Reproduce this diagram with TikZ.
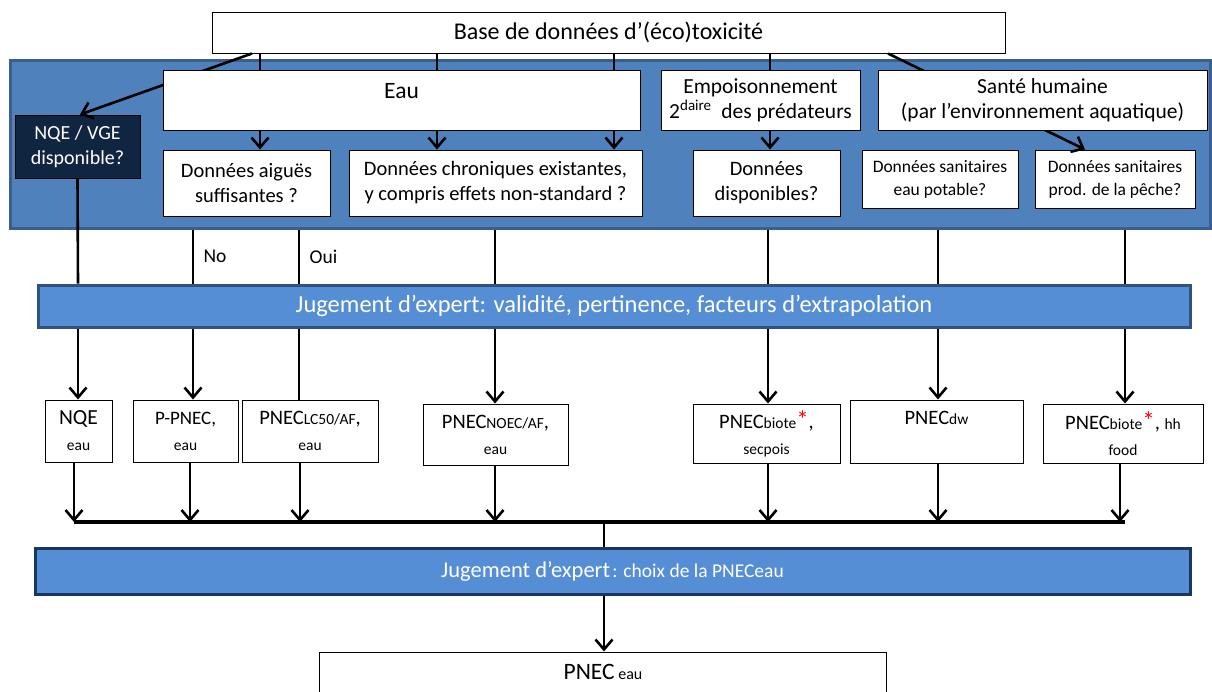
\documentclass[tikz,border=0pt]{standalone}
\usepackage{fontspec}
\setmainfont{Carlito}
\usetikzlibrary{arrows.meta}
\definecolor{panelblue}{HTML}{4F81BD}
\definecolor{panelborder}{HTML}{3A5F8E}
\definecolor{barblue}{HTML}{558ED5}
\definecolor{barborder}{HTML}{30527F}
\definecolor{bartwoborder}{HTML}{17375E}
\definecolor{navybox}{HTML}{10253F}
\newcommand{\fsz}[2]{\fontsize{#1}{#2}\selectfont}
\newcommand{\redstar}{{\fsz{25}{26}\textcolor{red}{*}}}
\begin{document}
\begin{tikzpicture}[x=1pt,y=-1pt,
  bx/.style={draw=black,line width=1pt,fill=white,inner sep=0pt,align=center},
  conn/.style={line width=2.6pt,draw=black},
  arr/.style={conn,-{Straight Barb[length=10pt,width=17pt,line width=2.6pt]}},
  bar/.style={draw=barborder,line width=3pt,fill=barblue,inner sep=0pt,text=white}]
\useasboundingbox (0,0) rectangle (1212,691);
\clip (0,0) rectangle (1212,691);
% top box
\node[bx,minimum width=793pt,minimum height=41pt,font=\fsz{24}{28}] (top) at (608.5,32.5) {Base de données d’(éco)toxicité};
% panel
\node[draw=panelborder,line width=3pt,fill=panelblue,minimum width=1200pt,minimum height=168pt,inner sep=0pt] (panel) at (610,144) {};
% column coordinates
\coordinate (cA) at (260,0);
\coordinate (cB) at (437,0);
\coordinate (cC) at (614,0);
\coordinate (cD) at (770,0);
\coordinate (cL) at (252,0);
\coordinate (cLe) at (80,0);
\coordinate (cR) at (888,0);
\coordinate (cRe) at (1085,0);
\coordinate (k1) at (78,0);
\coordinate (k2) at (193,0);
\coordinate (k3) at (299,0);
\coordinate (k4) at (495,0);
\coordinate (k5) at (768,0);
\coordinate (k6) at (938,0);
\coordinate (k7) at (1125,0);
% boxes in the panel (positions needed for diagonal connectors)
\node[draw=black,line width=1pt,fill=navybox,text=white,inner sep=0pt,align=center,minimum width=125pt,minimum height=63pt,font=\fsz{20}{25}] (nqe) at (77.5,146.5) {NQE / VGE\\disponible?};
\node[bx,minimum width=160pt,minimum height=58pt,font=\fsz{17.5}{23}] (pec) at (1115,179) {Données sanitaires\\prod. de la pêche?};
% diagonal connectors (behind Eau and Santé boxes)
\draw[arr] (top.south -| cL) -- (nqe.north -| cLe);
\draw[arr] (top.south -| cR) -- (pec.north -| cRe);
% other boxes
\node[bx,minimum width=477pt,minimum height=60pt] (eau) at (401.5,100) {};
\node[font=\fsz{23.5}{26}] (eaut) at (401.5,91) {Eau};
\node[bx,minimum width=199pt,minimum height=60pt,font=\fsz{21.5}{25}] (emp) at (760.5,100) {Empoisonnement\\2\textsuperscript{daire}\ \ des prédateurs};
\node[bx,minimum width=329pt,minimum height=60pt,font=\fsz{21.5}{25}] (san) at (1042.5,100) {Santé humaine\\(par l’environnement aquatique)};
\node[bx,minimum width=167pt,minimum height=66pt,font=\fsz{20.5}{25}] (aig) at (246.5,183) {Données aiguës\\suffisantes ?};
\node[bx,minimum width=293pt,minimum height=66pt,font=\fsz{20.5}{25}] (chr) at (495.5,183) {Données chroniques existantes,\\y compris effets non-standard ?};
\node[bx,minimum width=147pt,minimum height=66pt,font=\fsz{20.5}{25}] (dis) at (766.5,183) {Données\\disponibles?};
\node[bx,minimum width=156pt,minimum height=58pt,font=\fsz{17.5}{23}] (pot) at (940,179) {Données sanitaires\\eau potable?};
% connectors top -> level 1 boxes
\draw[conn] (top.south -| cA) -- (eau.north -| cA);
\draw[conn] (top.south -| cB) -- (eau.north -| cB);
\draw[conn] (top.south -| cC) -- (eau.north -| cC);
\draw[conn] (top.south -| cD) -- (emp.north -| cD);
\draw[arr] (eau.south -| cA) -- (aig.north -| cA);
\draw[arr] (eau.south -| cB) -- (chr.north -| cB);
\draw[arr] (eau.south -| cC) -- (chr.north -| cC);
\draw[arr] (emp.south -| cD) -- (dis.north -| cD);
% bar 1
\node[bar,minimum width=1152pt,minimum height=42pt,font=\fsz{24.5}{28}] (bar1) at (614,306) {Jugement d’expert: validité, pertinence, facteurs d’extrapolation};
% panel -> bar1
\draw[conn] (nqe.south) -- (bar1.north -| k1);
\draw[conn] (panel.south -| k2) -- node[pos=0.5,right=6pt,font=\fsz{19.5}{22}] (no) {No} (bar1.north -| k2);
\draw[conn] (panel.south -| k3) -- node[pos=0.5,right=6pt,font=\fsz{19.5}{22}] (oui) {Oui} (bar1.north -| k3);
\draw[conn] (panel.south -| k4) -- (bar1.north -| k4);
\draw[conn] (panel.south -| k5) -- (bar1.north -| k5);
\draw[conn] (panel.south -| k6) -- (bar1.north -| k6);
\draw[conn] (panel.south -| k7) -- (bar1.north -| k7);
% result boxes
\node[bx,minimum width=67pt,minimum height=62pt,font=\fsz{21.5}{26}] (n1) at (78.5,431) {NQE\\{\fsz{15.5}{16}eau}};
\node[bx,minimum width=105pt,minimum height=62pt,font=\fsz{19}{26}] (n2) at (185.5,431) {P-PNEC,\\{\fsz{15.5}{16}eau}};
\node[bx,minimum width=136pt,minimum height=62pt,font=\fsz{20.5}{26}] (n3) at (310,431) {PNEC{\fsz{15.5}{16}LC50/AF},\\{\fsz{15.5}{16}eau}};
\node[bx,minimum width=145pt,minimum height=61pt,font=\fsz{20.5}{26}] (n4) at (495.5,434.5) {PNEC{\fsz{15.5}{16}NOEC/AF},\\{\fsz{15.5}{16}eau}};
\node[bx,minimum width=147pt,minimum height=59pt,font=\fsz{20.5}{26}] (n5) at (766.5,433.5) {PNEC{\fsz{15.5}{16}biote}\redstar,\\{\fsz{15.5}{16}secpois}};
\node[bx,minimum width=173pt,minimum height=63pt] (n6) at (936.5,431.5) {};
\node[font=\fsz{20.5}{23}] (n6t) at (936.5,418) {PNEC{\fsz{15.5}{16}dw}};
\node[bx,minimum width=160pt,minimum height=59pt,font=\fsz{20.5}{26}] (n7) at (1123,433.5) {PNEC{\fsz{15.5}{16}biote}\redstar, {\fsz{15.5}{16}hh}\\{\fsz{15.5}{16}food}};
% bar1 -> result boxes
\draw[arr] (bar1.south -| k1) -- (n1.north -| k1);
\draw[arr] (bar1.south -| k2) -- (n2.north -| k2);
\draw[conn] (bar1.south -| k3) -- (n3.north -| k3);
\draw[arr] (bar1.south -| k4) -- (n4.north -| k4);
\draw[arr] (bar1.south -| k5) -- (n5.north -| k5);
\draw[arr] (bar1.south -| k6) -- (n6.north -| k6);
\draw[arr] (bar1.south -| k7) -- (n7.north -| k7);
% collector line
\coordinate (hl) at (74,522);
\coordinate (hr) at (1125,522);
\coordinate (hm) at (604,522);
\draw[line width=4pt] (hl) -- (hr);
\draw[arr] (n1.south -| 74,0) -- (hl);
\draw[arr] (n2.south -| 190,0) -- (hl -| 190,0);
\draw[arr] (n3.south -| 300,0) -- (hl -| 300,0);
\draw[arr] (n4.south -| k4) -- (hl -| k4);
\draw[arr] (n5.south -| k5) -- (hl -| k5);
\draw[arr] (n6.south -| k6) -- (hl -| k6);
\draw[arr] (n7.south -| 1120,0) -- (hl -| 1120,0);
% bar 2
\node[bar,draw=bartwoborder,minimum width=1155pt,minimum height=46pt] (bar2) at (612.5,571) {{\fsz{22.5}{24}Jugement d’expert} {\fsz{19.5}{22}: choix de la PNECeau}};
\draw[conn] (hm) -- (bar2.north -| hm);
% final
\node[bx,minimum width=567pt,minimum height=48pt] (fin) at (602.5,676) {};
\node[font=\fsz{23.5}{26}] (fint) at (603,672) {PNEC{\fsz{16}{18} eau}};
\draw[arr] (bar2.south -| hm) -- (fin.north -| hm);
\end{tikzpicture}
\end{document}
